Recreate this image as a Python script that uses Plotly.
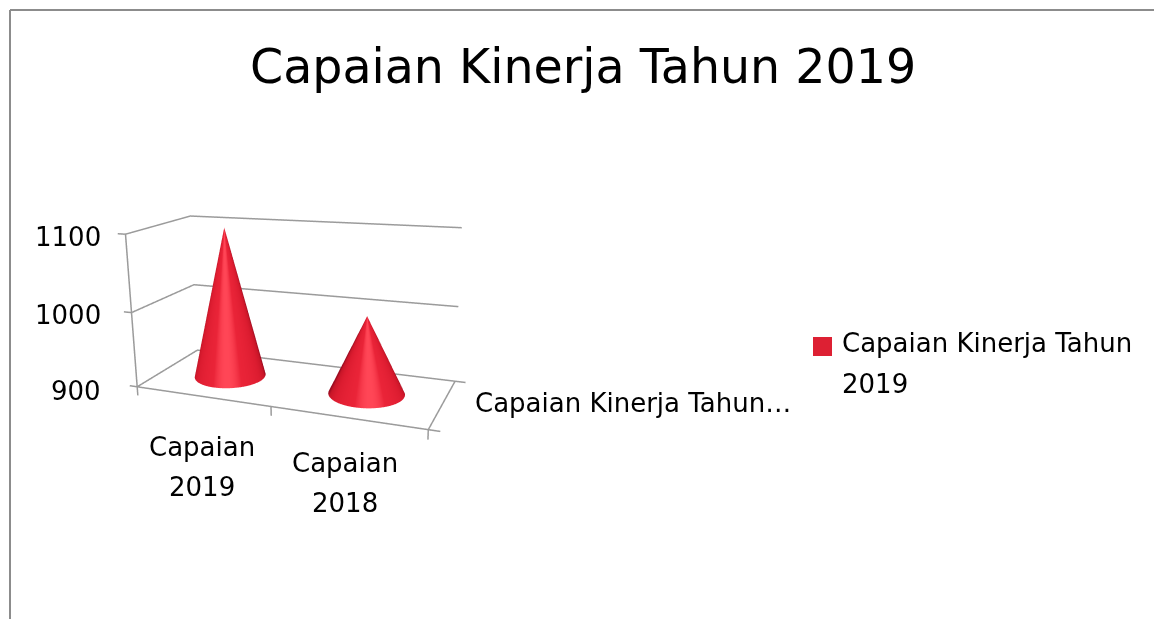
import numpy as np
import plotly.graph_objects as go

categories = ["Capaian 2019", "Capaian 2018"]
values = [1100, 1000]
series_name = "Capaian Kinerja Tahun 2019"
depth_label = "Capaian Kinerja Tahun…"
z_ticks = [900, 1000, 1100]
title = "Capaian Kinerja Tahun 2019"

FONT = "DejaVu Sans"
GRID = "#9b9b9b"
XR, YR, ZR = [-0.08, 2.1], [-0.02, 1.02], [885.0, 1105.0]
EYE = dict(x=1.562, y=-3.82, z=1.156)
CENTER = dict(x=-0.071, y=-0.023, z=0.024)
UP = dict(x=0.018, y=0.009, z=1)
ASPECT = dict(x=1.883, y=0.753, z=1.0)
CX = 282.791

colorscale = [[0, "#9a0a20"], [0.2, "#c81628"], [0.5, "#dc1c30"], [0.92, "#ea2438"], [1, "#ff4656"]]
fig = go.Figure()
theta = np.linspace(0, 2*np.pi, 181)
t = np.linspace(0, 1, 25)
T, H = np.meshgrid(theta, t)
RX = 0.25
RY = RX * (ASPECT["x"]/(XR[1]-XR[0])) / (ASPECT["y"]/(YR[1]-YR[0]))
view = np.arctan2(EYE["y"], EYE["x"])
for i, v in enumerate(values):
    X = i+0.5+RX*(1-H)*np.cos(T)
    Y = 0.5+RY*(1-H)*np.sin(T)
    Z = 900+(v-900)*H
    shade = np.clip(np.cos(T-view), 0, 1)
    fig.add_trace(go.Surface(x=X, y=Y, z=Z, surfacecolor=shade, colorscale=colorscale, cmin=0, cmax=1,
                             showscale=False, name=series_name,
                             lighting=dict(ambient=1, diffuse=0, specular=0, roughness=1, fresnel=0)))

def seg(xs, ys, zs):
    fig.add_trace(go.Scatter3d(x=xs, y=ys, z=zs, mode="lines", line=dict(color=GRID, width=3),
                               showlegend=False, hoverinfo="skip"))
for z in z_ticks:
    seg([-0.06, 0, 0, 2], [0, 0, 1, 1], [z, z, z, z])
seg([0, 0], [0, 0], [900, 1100])
seg([0, 2, 2.07], [0, 0, 0], [900, 900, 900])
seg([2, 2, 2.07], [0, 1, 1], [900, 900, 900])
for x in [0, 1, 2]:
    seg([x, x], [0, 0], [900, 888])

def label(text, px, py, size=26, anchor="center"):
    return dict(text=text, x=px/1154, y=1-py/619, xref="paper", yref="paper", showarrow=False,
                xanchor=anchor, yanchor="middle", font=dict(size=size, color="black", family=FONT))
anns = [label(title, 583, 66, 47.5)]
for tick, py in zip(z_ticks, [391, 315, 237]):
    anns.append(label(str(tick), 103, py, 26, "right"))
for cat, px, py in zip(categories, [202, 345], [447, 463]):
    w1, w2 = cat.split(" ")
    anns.append(label(w1, px, py, 26))
    anns.append(label(w2, px, py+40, 26))
anns.append(label(depth_label, 473, 403, 26, "left"))
head, tail = series_name.rsplit(" ", 1)
anns.append(label(head, 840, 343, 26, "left"))
anns.append(label(tail, 840, 384, 26, "left"))

hidden = dict(visible=False, showspikes=False)
def rect(x0, y0, x1, y1):
    return dict(xref="paper", yref="paper", x0=x0/1154, x1=x1/1154, y0=1-y0/619, y1=1-y1/619)
fig.update_layout(
    width=1154, height=619, margin=dict(l=0, r=0, t=0, b=0), paper_bgcolor="white",
    font=dict(family=FONT, color="black", size=26),
    showlegend=False,
    scene=dict(domain=dict(x=[0, 2*CX/1154], y=[0, 1]), bgcolor="white",
               dragmode="orbit",
               xaxis=dict(hidden, range=XR), yaxis=dict(hidden, range=YR), zaxis=dict(hidden, range=ZR),
               aspectmode="manual", aspectratio=ASPECT,
               camera=dict(eye=EYE, center=CENTER, up=UP, projection=dict(type="perspective"))),
    shapes=[dict(rect(10,10,1154,10), type="line", line=dict(color="#8c8c8c", width=2)),
            dict(rect(10,10,10,619), type="line", line=dict(color="#8c8c8c", width=2)),
            dict(rect(813,337,832,356), type="rect", fillcolor="#dd2033", line=dict(width=0))],
    annotations=anns,
)
fig.write_html("out.html", config=dict(displayModeBar=False), post_script="document.body.style.margin='0';")
